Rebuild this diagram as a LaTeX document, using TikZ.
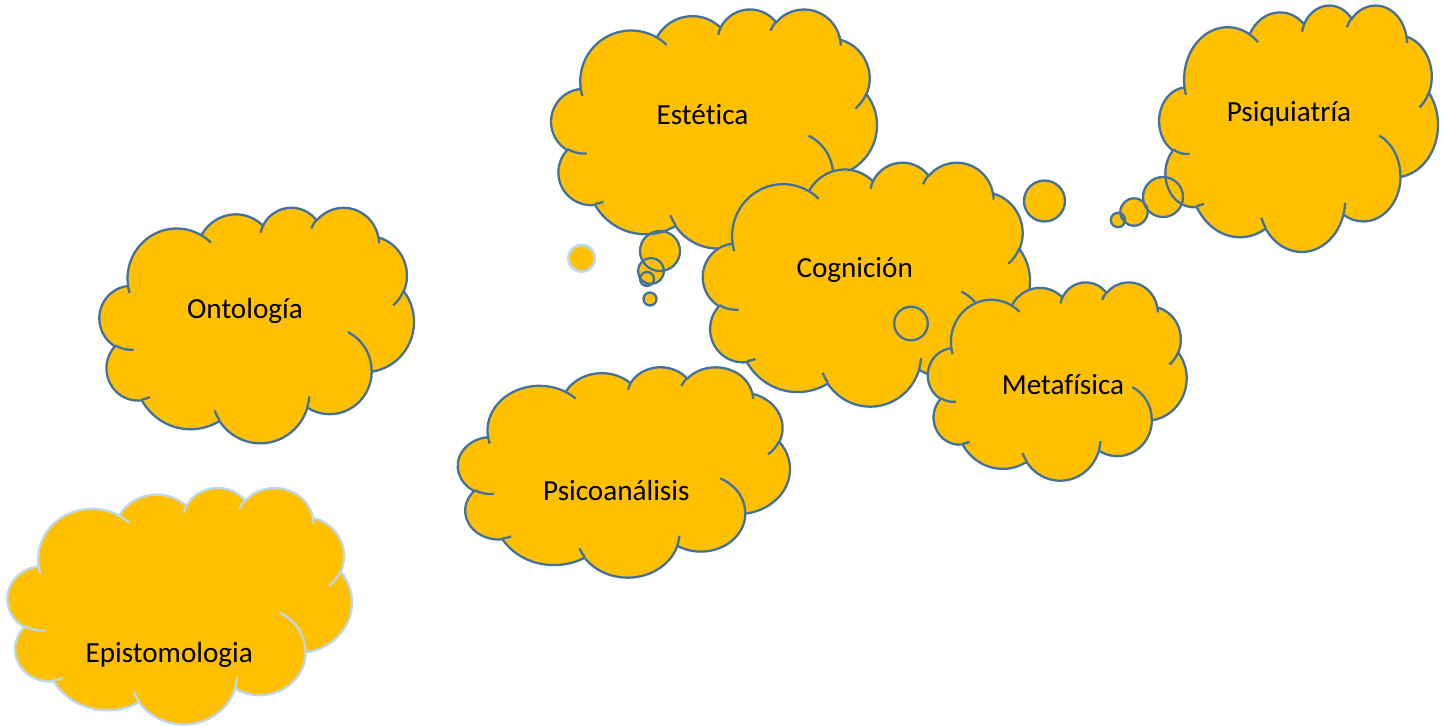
\documentclass[tikz,border=0pt]{standalone}
\usepackage{fontspec}
\setmainfont{Carlito}[Ligatures=NoCommon]
\usepackage{tikz}
\definecolor{gold}{HTML}{FFC000}
\definecolor{edge}{HTML}{41719C}
\definecolor{paleedge}{HTML}{BDD7EE}
\tikzset{
  cloudfill/.style={fill=gold},
  cloudedge/.style={draw=edge, line width=1.3pt, line join=round},
  cloudbox/.style n args={4}{shift={(#1,#2)}, x={#3*0.02cm/43.2}, y={-#4*0.02cm/43.2}},
  bubble/.style={draw=edge, line width=1.3pt},
  lbl/.style={text=black, font=\fontsize{16.6}{20}\selectfont, anchor=base}
}
% cloud outline in a 43.2 x 43.2 box, y pointing down
\newcommand{\cloudoutline}{%
  (3.900,14.370)
  arc[x radius=6.753, y radius=9.190, start angle=172.25, delta angle=128.11]
  arc[x radius=5.333, y radius=7.267, start angle=-152.04, delta angle=106.59]
  arc[x radius=4.365, y radius=5.945, start angle=-153.50, delta angle=116.18]
  arc[x radius=4.857, y radius=6.595, start angle=-139.70, delta angle=129.49]
  arc[x radius=5.333, y radius=7.273, start angle=-74.77, delta angle=97.98]
  arc[x radius=6.775, y radius=9.220, start angle=-37.52, delta angle=119.38]
  arc[x radius=5.785, y radius=7.867, start angle=0.46, delta angle=121.52]
  arc[x radius=6.752, y radius=9.215, start angle=16.84, delta angle=129.38]
  arc[x radius=7.720, y radius=10.543, start angle=58.98, delta angle=91.21]
  arc[x radius=4.360, y radius=5.918, start angle=83.31, delta angle=139.79]
  arc[x radius=4.345, y radius=5.945, start angle=120.35, delta angle=143.76]
  -- cycle}
\newcommand{\cloudcreases}{%
  (4.693,26.177) arc[x radius=4.345, y radius=5.945, start angle=85.55, delta angle=34.80]
  (6.928,34.899) arc[x radius=4.360, y radius=5.918, start angle=68.24, delta angle=15.07]
  (16.478,39.090) arc[x radius=6.752, y radius=9.215, start angle=146.22, delta angle=12.26]
  (28.827,34.751) arc[x radius=6.752, y radius=9.215, start angle=4.74, delta angle=12.10]
  (34.129,22.954) arc[x radius=5.785, y radius=7.867, start angle=-64.03, delta angle=64.49]
  (41.798,15.354) arc[x radius=5.333, y radius=7.273, start angle=23.21, delta angle=26.42]
  (38.324,5.426) arc[x radius=4.857, y radius=6.595, start angle=-10.21, delta angle=11.03]
  (29.078,3.952) arc[x radius=4.857, y radius=6.595, start angle=-156.29, delta angle=16.59]
  (22.141,4.720) arc[x radius=4.365, y radius=5.945, start angle=-167.73, delta angle=14.23]
  (14.000,5.192) arc[x radius=6.753, y radius=9.190, start angle=-59.64, delta angle=13.92]
  (4.127,15.789) arc[x radius=6.753, y radius=9.190, start angle=163.19, delta angle=9.06]}
\newcommand{\fillcloud}[4]{\fill[cloudfill, cloudbox={#1}{#2}{#3}{#4}] \cloudoutline;}
\newcommand{\strokecloud}[5]{\draw[cloudedge, draw=#5, cloudbox={#1}{#2}{#3}{#4}] \cloudoutline \cloudcreases;}

\begin{document}
\begin{tikzpicture}[x=0.02cm, y=-0.02cm]
  \useasboundingbox (0,0) rectangle (1448,725);

  % left column
  \fillcloud{99.6}{207}{314.3}{235.5}
  \strokecloud{99.6}{207}{314.3}{235.5}{edge}
  \fillcloud{7.6}{487.2}{344.2}{236.4}
  \strokecloud{7.6}{487.2}{344.2}{236.4}{paleedge}
  \fillcloud{458}{366.6}{331.9}{210.3}
  \strokecloud{458}{366.6}{331.9}{210.3}{edge}

  % Estetica with its tail
  \coordinate (e1) at (660,251);
  \coordinate (e2) at (651,271);
  \coordinate (e3) at (647,279);
  \fillcloud{551.3}{8.7}{325.6}{239}
  \fill[gold] (e1) circle[radius=20] (e2) circle[radius=13] (e3) circle[radius=7];
  \strokecloud{551.3}{8.7}{325.6}{239}{edge}
  \draw[bubble] (e1) circle[radius=20] (e2) circle[radius=13] (e3) circle[radius=7];
  \filldraw[bubble, fill=gold] (650,299) circle[radius=6.5];
  \filldraw[bubble, fill=gold, draw=paleedge, line width=1.6pt] (581.7,258.3) circle[radius=13.2];

  % Cognicion and Metafisica
  \fillcloud{703}{161.9}{326.9}{243.9}
  \strokecloud{703}{161.9}{326.9}{243.9}{edge}
  \filldraw[bubble, fill=gold] (911,323.5) circle[radius=16.8];
  \filldraw[bubble, fill=gold] (1044.5,201) circle[radius=20.5];
  \fillcloud{927.9}{281.7}{258.7}{198.3}
  \strokecloud{927.9}{281.7}{258.7}{198.3}{edge}

  % Psiquiatria with its tail
  \coordinate (p1) at (1163,197);
  \coordinate (p2) at (1134,212);
  \coordinate (p3) at (1118,220);
  \fillcloud{1159.3}{4.7}{278.6}{246.4}
  \fill[gold] (p1) circle[radius=20] (p2) circle[radius=13.7] (p3) circle[radius=7.2];
  \strokecloud{1159.3}{4.7}{278.6}{246.4}{edge}
  \draw[bubble] (p1) circle[radius=20] (p2) circle[radius=13.7] (p3) circle[radius=7.2];

  % labels
  \node[lbl] (ontologia) at (245,318.3) {Ontología};
  \node[lbl] (epistomologia) at (169.2,662.3) {Epistomologia};
  \node[lbl] (psicoanalisis) at (616.3,500.7) {Psicoanálisis};
  \node[lbl] (estetica) at (702.5,124) {Estética};
  \node[lbl] (cognicion) at (854.7,277.7) {Cognición};
  \node[lbl] (metafisica) at (1063,394) {Metafísica};
  \node[lbl] (psiquiatria) at (1289,121.7) {Psiquiatría};
\end{tikzpicture}
\end{document}
